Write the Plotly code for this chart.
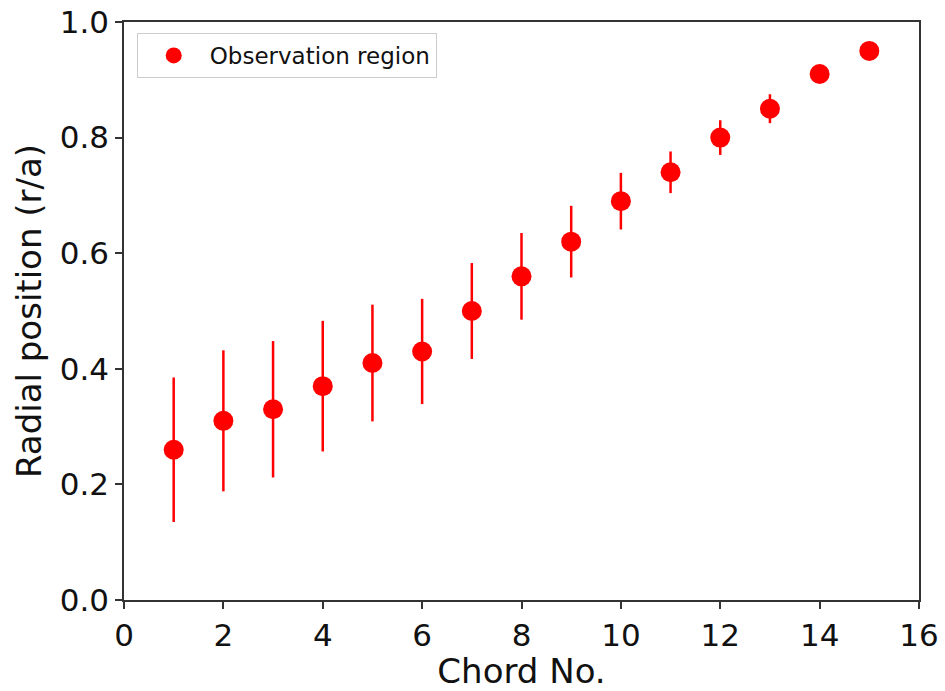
import plotly.graph_objects as go

chord = [1, 2, 3, 4, 5, 6, 7, 8, 9, 10, 11, 12, 13, 14, 15]
radial = [0.26, 0.31, 0.33, 0.37, 0.41, 0.43, 0.50, 0.56, 0.62, 0.69, 0.74, 0.80, 0.85, 0.91, 0.95]
err = [0.125, 0.122, 0.118, 0.113, 0.101, 0.091, 0.083, 0.075, 0.062, 0.049, 0.036, 0.030, 0.025, 0.015, 0.010]
xticks = [0, 2, 4, 6, 8, 10, 12, 14, 16]
yticks = [0.0, 0.2, 0.4, 0.6, 0.8, 1.0]

font = "DejaVu Sans"

fig = go.Figure()
fig.add_trace(go.Scatter(
    x=chord, y=radial, mode="markers", name="Observation region",
    marker=dict(color="#ff0000", size=20),
    error_y=dict(type="data", array=err, visible=True, color="#ff0000", thickness=2.5, width=0),
))

axis_common = dict(
    showline=True, linecolor="#333333", linewidth=1.5, mirror=True,
    ticks="outside", ticklen=7, tickwidth=1.5, tickcolor="#333333",
    showgrid=False, zeroline=False, automargin=False,
    tickfont=dict(family=font, size=31, color="#111111"),
)

fig.update_layout(
    width=945, height=691,
    margin=dict(l=124, r=26, t=22, b=91),
    paper_bgcolor="white", plot_bgcolor="white",
    font=dict(family=font, color="#111111"),
    xaxis=dict(range=[0, 16], tickvals=xticks, ticktext=[str(v) for v in xticks],
               ticklabelstandoff=0,
               title=dict(text="Chord No.", font=dict(family=font, size=34), standoff=0),
               **axis_common),
    yaxis=dict(range=[0, 1.0], tickvals=yticks, ticktext=[f"{v:.1f}" for v in yticks],
               title=dict(text="Radial position (r/a)", font=dict(family=font, size=34), standoff=8),
               **axis_common),
    showlegend=True,
    legend=dict(x=0.016, y=0.981, xanchor="left", yanchor="top",
                bgcolor="white", bordercolor="#cccccc", borderwidth=1,
                font=dict(family=font, size=23, color="#111111"),
                itemsizing="trace", itemwidth=62),
)

fig.write_html("out.html")
